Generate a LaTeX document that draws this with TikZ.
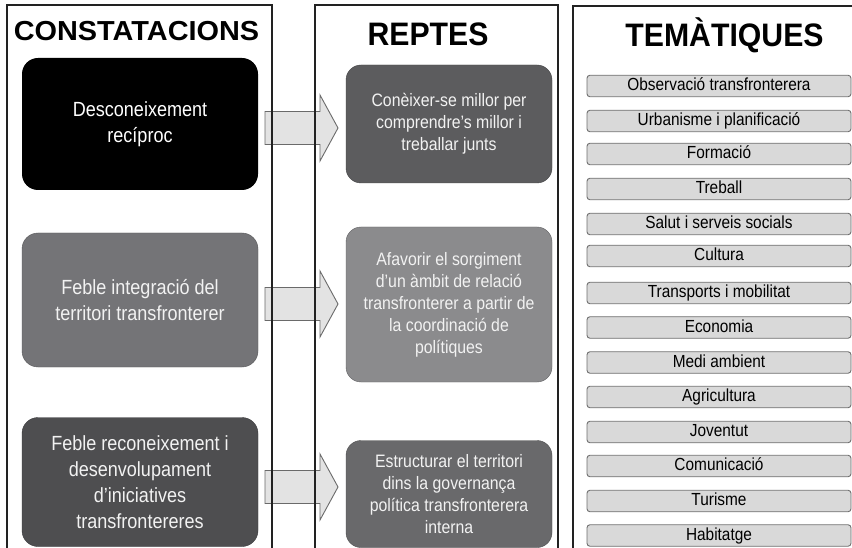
\documentclass[tikz,border=0pt]{standalone}
\usepackage{fontspec}
\setmainfont{Liberation Sans}[FakeStretch=0.88]
\newfontfamily\titlenarrow{Liberation Sans}[FakeStretch=0.93]
\newfontfamily\titlewide{Liberation Sans}[FakeStretch=1.05]
\usetikzlibrary{calc}
\definecolor{cA}{HTML}{000000}
\definecolor{cB}{HTML}{747477}
\definecolor{cC}{HTML}{4E4E50}
\definecolor{rA}{HTML}{5C5C5E}
\definecolor{rB}{HTML}{8B8B8D}
\definecolor{rC}{HTML}{69696B}
\definecolor{themefill}{HTML}{D9D9D9}
\definecolor{themedraw}{HTML}{707070}
\definecolor{arrowfill}{HTML}{E3E3E3}
\definecolor{arrowdraw}{HTML}{6A6A6A}
\definecolor{paneldraw}{HTML}{222222}
\definecolor{lighttext}{HTML}{F2F2F2}
\newcommand\blockarrow[2]{%
  \draw[arrowst] ($(#1)+(0,-16.5)$) -- ($(#2)+(-18,-16.5)$) -- ($(#2)+(-18,-33)$)
    -- (#2) -- ($(#2)+(-18,33)$) -- ($(#2)+(-18,16.5)$) -- ($(#1)+(0,16.5)$) -- cycle;}
\begin{document}
\begin{tikzpicture}[x=1pt,y=-1pt,
  panel/.style={draw=paneldraw,line width=1.3pt},
  titletext/.style={anchor=base,inner sep=0pt,font=\bfseries},
  constbox/.style={rounded corners=16pt,minimum width=236pt,inner sep=0pt,align=center,
    text=lighttext,font=\fontsize{20.5}{26}\selectfont},
  reptebox/.style={rounded corners=15pt,minimum width=206pt,inner sep=0pt,align=center,
    text=lighttext,font=\fontsize{18}{22}\selectfont},
  themebox/.style={draw=themedraw,fill=themefill,line width=0.9pt,rounded corners=3pt,
    minimum width=264pt,minimum height=21.5pt,inner sep=0pt,text height=12.5pt,text depth=3.5pt,
    font=\fontsize{17.5}{20}\selectfont},
  arrowst/.style={draw=arrowdraw,fill=arrowfill,line width=0.9pt}]
\useasboundingbox (0,0) rectangle (852,548);
\fill[white] (0,0) rectangle (852,548);
\begin{scope}
\clip (0,0) rectangle (852,548);
% block arrows (under panel lines)
\coordinate (a1s) at (265,128);
\coordinate (a1e) at (338,128);
\coordinate (a2s) at (265,304);
\coordinate (a2e) at (338,304);
\coordinate (a3s) at (265,487);
\coordinate (a3e) at (338,487);
\blockarrow{a1s}{a1e}
\blockarrow{a2s}{a2e}
\blockarrow{a3s}{a3e}
% panels
\draw[panel] (7,560) -- (7,5) -- (272,5) -- (272,560);
\draw[panel] (315,560) -- (315,5) -- (558,5) -- (558,560);
\draw[panel] (573,560) -- (573,6) -- (870,6);
% titles
\node[titletext,font=\titlewide\bfseries\fontsize{27.5}{30}\selectfont] (t1) at (136.5,41) {CONSTATACIONS};
\node[titletext,font=\titlenarrow\bfseries\fontsize{32.5}{34}\selectfont] (t2) at (428,46) {REPTES};
\node[titletext,font=\titlenarrow\bfseries\fontsize{32.5}{34}\selectfont] (t3) at (724.5,46.5) {TEMÀTIQUES};
% constatacions
\node[constbox,fill=cA,text=white,minimum height=132pt] (c1) at (140,124) {Desconeixement\\recíproc};
\node[constbox,fill=cB,draw=cB!75!black,minimum height=134pt] (c2) at (140,300) {Feble integració del\\territori transfronterer};
\node[constbox,fill=cC,draw=cC!75!black,minimum height=129pt] (c3) at (140,482) {Feble reconeixement i\\desenvolupament\\d’iniciatives\\transfrontereres};
% reptes
\node[reptebox,fill=rA,draw=rA!75!black,minimum height=118pt] (r1) at (449,124) {Conèixer-se millor per\\comprendre’s millor i\\treballar junts};
\node[reptebox,fill=rB,draw=rB!70!black,minimum height=155pt] (r2) at (449,304.5) {Afavorir el sorgiment\\d’un àmbit de relació\\transfronterer a partir de\\la coordinació de\\polítiques};
\node[reptebox,fill=rC,draw=rC!75!black,minimum height=107pt] (r3) at (449,494) {Estructurar el territori\\dins la governança\\política transfronterera\\interna};
% tematiques
\node[themebox] (m1) at (719,86) {Observació transfronterera};
\node[themebox] (m2) at (719,121) {Urbanisme i planificació};
\node[themebox] (m3) at (719,154) {Formació};
\node[themebox] (m4) at (719,189) {Treball};
\node[themebox] (m5) at (719,224) {Salut i serveis socials};
\node[themebox] (m6) at (719,256) {Cultura};
\node[themebox] (m7) at (719,293) {Transports i mobilitat};
\node[themebox] (m8) at (719,327.5) {Economia};
\node[themebox] (m9) at (719,362.5) {Medi ambient};
\node[themebox] (m10) at (719,397) {Agricultura};
\node[themebox] (m11) at (719,432) {Joventut};
\node[themebox] (m12) at (719,466) {Comunicació};
\node[themebox] (m13) at (719,501) {Turisme};
\node[themebox] (m14) at (719,535.5) {Habitatge};
\end{scope}
\end{tikzpicture}
\end{document}
